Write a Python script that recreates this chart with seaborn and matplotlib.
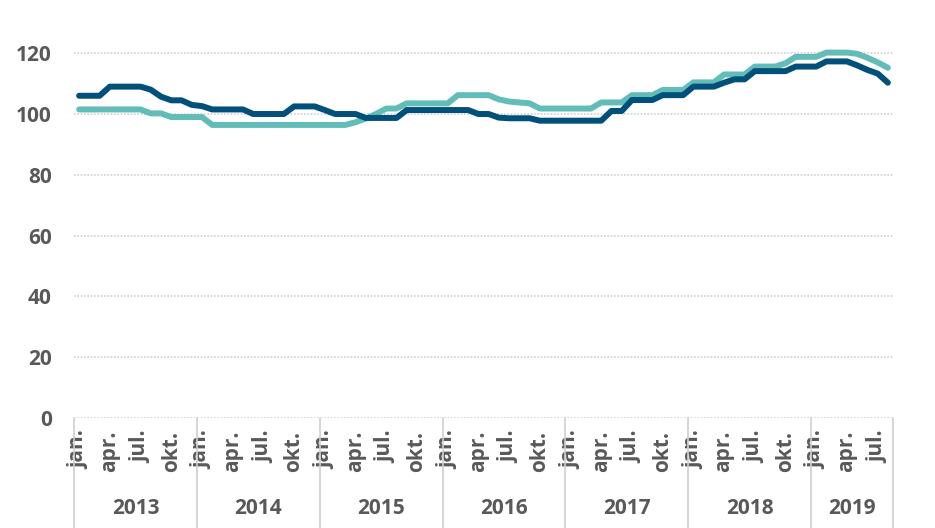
import matplotlib
matplotlib.use("Agg")
import matplotlib.pyplot as plt
import matplotlib.transforms as mtransforms
import seaborn as sns
import pandas as pd

# Data: monthly index values, jan. 2013 - aug. 2019
years = ["2013", "2014", "2015", "2016", "2017", "2018", "2019"]
month_labels = {0: "jan.", 3: "apr.", 6: "jul.", 9: "okt."}
n_months = 80

series_dark_name = "Udbudspris, lejligheder i hele landet, indeks 2015=100"
series_teal_name = "Salgspris, lejligheder i hele landet, indeks 2015=100"

dark = (
    [106] * 3 + [109] * 4 + [108, 105.7, 104.5, 104.5, 103, 102.6]
    + [101.5] * 4 + [100] * 4 + [102.5] * 3 + [101.3] + [100] * 3
    + [98.7] * 4 + [101.3] * 7 + [100, 100, 98.8] + [98.6] * 3
    + [97.8] * 7 + [101, 101] + [104.6] * 3 + [106.2] * 3 + [109] * 3
    + [110.3, 111.4, 111.4] + [114.1] * 4 + [115.6] * 3 + [117.3] * 3
    + [116, 114.5, 113.3, 110.3]
)
teal = (
    [101.5] * 7 + [100.2] * 2 + [99] * 4 + [96.4] * 14
    + [97.3, 98.5, 100, 101.8, 101.8] + [103.5] * 5 + [106.2] * 4
    + [104.8, 104.1, 103.8, 103.5] + [101.8] * 6 + [103.8] * 3
    + [106.2] * 3 + [107.9] * 3 + [110.4] * 3 + [113] * 3 + [115.6] * 3
    + [116.7] + [118.8] * 3 + [120.2] * 3 + [119.8, 118.5, 117, 115.2]
)

df = pd.DataFrame({
    "month": list(range(n_months)) * 2,
    "value": teal + dark,
    "series": [series_teal_name] * n_months + [series_dark_name] * n_months,
})

sns.set_style("white")
plt.rcParams["font.family"] = ["Open Sans", "DejaVu Sans"]
text_color = "#595959"
grid_color = "#cfcfcf"
fsize = 15
fweight = "bold"

fig = plt.figure(figsize=(9.35, 5.28), dpi=100)
ax = fig.add_axes([74 / 935, 110 / 528, 819 / 935, 425.6 / 528])

sns.lineplot(
    data=df, x="month", y="value", hue="series",
    hue_order=[series_teal_name, series_dark_name],
    palette=["#62bdb8", "#00507a"], linewidth=4.3, ax=ax,
    solid_joinstyle="round", solid_capstyle="round",
)

ax.set_xlim(-0.5, n_months - 0.5)
ax.set_ylim(0, 140)
ax.set_yticks(range(0, 141, 20))
ax.yaxis.grid(True, color=grid_color, linestyle=(0, (1, 1)), linewidth=1.2)
ax.set_axisbelow(True)
for side in ["top", "right", "left", "bottom"]:
    ax.spines[side].set_visible(False)
ax.set_xlabel("")
ax.set_ylabel("")

ax.tick_params(axis="y", length=0, pad=16, labelsize=fsize, labelcolor=text_color)
for lbl in ax.get_yticklabels():
    lbl.set_fontweight(fweight)

ticks = [i for i in range(n_months) if i % 12 in month_labels]
ax.set_xticks(ticks)
ax.set_xticklabels([month_labels[i % 12] for i in ticks], rotation=90,
                   fontsize=fsize, color=text_color, fontweight=fweight)
ax.tick_params(axis="x", length=0, pad=9)

trans = mtransforms.blended_transform_factory(ax.transData, ax.transAxes)
bounds = [-0.5 + 12 * k for k in range(len(years))] + [n_months - 0.5]
for b in bounds:
    ax.plot([b, b], [0, -0.3], transform=trans, color=grid_color,
            linewidth=1.2, clip_on=False)
for k, year in enumerate(years):
    mid = (bounds[k] + bounds[k + 1]) / 2
    ax.text(mid, -0.212, year, transform=trans, ha="center", va="center",
            fontsize=fsize, color=text_color, fontweight=fweight)

ax.legend(loc="upper center", bbox_to_anchor=(0.5, -0.247), ncol=2,
          frameon=False, fontsize=fsize, labelcolor=text_color,
          handlelength=2.5, columnspacing=3)

fig.savefig("out.png", dpi=100)
